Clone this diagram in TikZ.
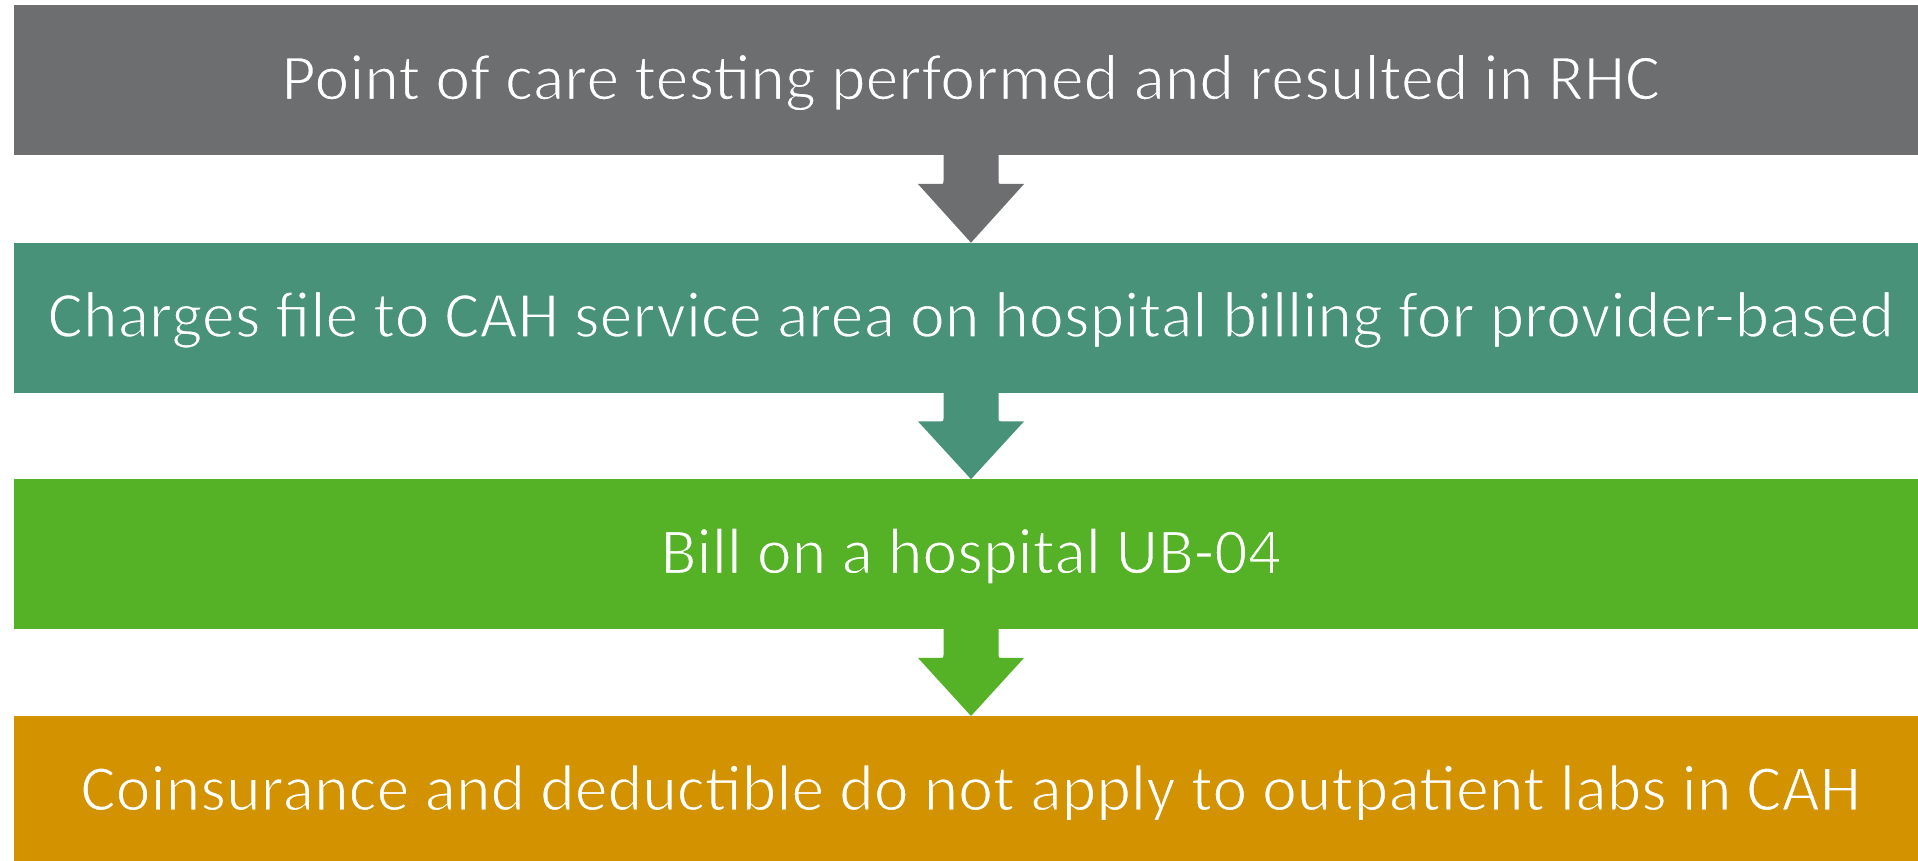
\documentclass[tikz,border=0pt]{standalone}
\usepackage{fontspec}
\setmainfont{Carlito}
\usetikzlibrary{calc}
\definecolor{stagegray}{RGB}{109,110,112}
\definecolor{stageteal}{RGB}{72,146,122}
\definecolor{stagegreen}{RGB}{85,178,39}
\definecolor{stageorange}{RGB}{211,146,0}
% light-weight lettering: glyphs are filled white and outlined in the
% background colour, which trims the strokes
\newcommand{\lighttext}[2]{\special{pdf:literal direct 2 Tr 1.7 w #1 RG}#2\special{pdf:literal direct 0 Tr}}
\begin{document}
\begin{tikzpicture}[x=1pt,y=-1pt,
  stage/.style={anchor=north, minimum width=1914pt, minimum height=150pt,
    inner sep=0pt, text=white, text height=42.5pt, text depth=4pt,
    font=\fontsize{66}{66}\selectfont}]
\useasboundingbox (0,0) rectangle (1918,861);
\begin{scope}
\clip (0,0) rectangle (1918,861);
\node[stage, fill=stagegray]   (b1) at (971,5.3)
  {\lighttext{0.427 0.431 0.439}{Point of care testing performed and resulted in RHC}};
\node[stage, fill=stageteal]   (b2) at (971,242.7)
  {\lighttext{0.282 0.573 0.478}{Charges file to CAH service area on hospital billing for provider-based}};
\node[stage, fill=stagegreen]  (b3) at (971,479.2)
  {\lighttext{0.333 0.698 0.153}{Bill on a hospital UB-04}};
\node[stage, fill=stageorange] (b4) at (971,716)
  {\lighttext{0.827 0.573 0}{Coinsurance and deductible do not apply to outpatient labs in CAH}};
% block arrows from each stage to the next (small fillets where stem meets head)
\foreach \a/\b/\c in {b1/b2/stagegray, b2/b3/stageteal, b3/b4/stagegreen}{
  \fill[\c]
    ($(\a.south)+(-27.5,-4)$) -- ($(\a.south)+(-27.5,25.3)$)
    .. controls ($(\a.south)+(-27.5,28.3)$) .. ($(\a.south)+(-30.5,28.3)$)
    -- ($(\a.south)+(-53,28.3)$) -- (\b.north)
    -- ($(\a.south)+(53,28.3)$) -- ($(\a.south)+(30.5,28.3)$)
    .. controls ($(\a.south)+(27.5,28.3)$) .. ($(\a.south)+(27.5,25.3)$)
    -- ($(\a.south)+(27.5,-4)$) -- cycle;
}
\end{scope}
\end{tikzpicture}
\end{document}
